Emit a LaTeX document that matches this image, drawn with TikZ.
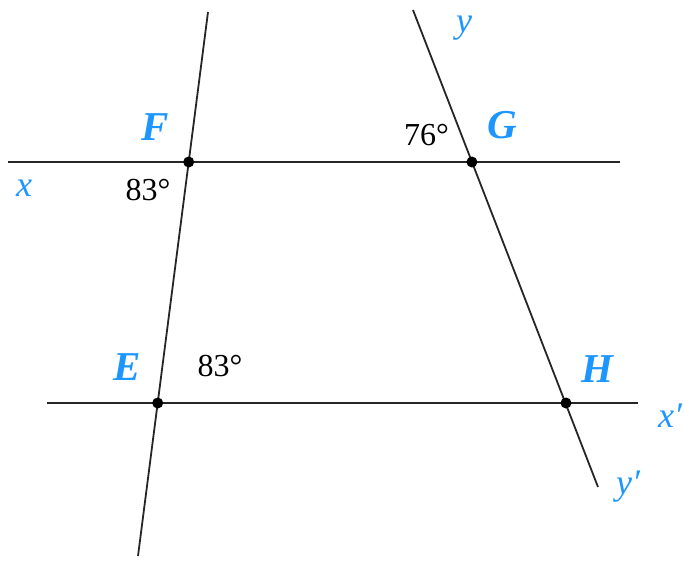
\documentclass[tikz,border=0pt]{standalone}
\usepackage{fontspec}
\setmainfont{Liberation Serif}
\definecolor{lblue}{RGB}{30,150,255}
\tikzset{
  ln/.style={line width=1.8pt, black!85},
  pt/.style={circle, fill=black, inner sep=0pt, minimum size=11pt},
  ptname/.style={text=lblue, inner sep=0pt, font=\fontsize{41}{43}\selectfont\bfseries\itshape},
  lnname/.style={text=lblue, inner sep=0pt, font=\fontsize{36}{38}\selectfont\itshape},
  ang/.style={inner sep=0pt, font=\fontsize{32}{34}\selectfont}
}
\begin{document}
\begin{tikzpicture}[x=1pt,y=-1pt]
\useasboundingbox (0,0) rectangle (684,560);
\coordinate (x1) at (8,162);
\coordinate (x2) at (620,162);
\coordinate (b1) at (47,403);
\coordinate (b2) at (638,403);
\coordinate (l1) at (208,12);
\coordinate (l2) at (138,556);
\coordinate (r1) at (413,10);
\coordinate (r2) at (598,487);
\draw[ln] (x1) -- (x2);
\draw[ln] (b1) -- (b2);
\draw[ln] (l1) -- (l2);
\draw[ln] (r1) -- (r2);
\node[pt] (F) at (188.7,162) {};
\node[pt] (E) at (157.7,403) {};
\node[pt] (G) at (471.9,162) {};
\node[pt] (H) at (566,403) {};
\node[ptname] (Fl) at (155,127.5) {F};
\node[ptname] (Gl) at (502,125.5) {G};
\node[ptname] (El) at (127,367.5) {E};
\node[ptname] (Hl) at (597,369) {H};
\node[lnname] (xl) at (24,188) {x};
\node[lnname] (yl) at (464,28.5) {y};
\node[lnname] (xpl) at (670,416) {x′};
\node[lnname] (ypl) at (628,487) {y′};
\node[ang] (a1) at (148,190) {83°};
\node[ang] (a2) at (426.5,135) {76°};
\node[ang] (a3) at (220,366) {83°};
\end{tikzpicture}
\end{document}
